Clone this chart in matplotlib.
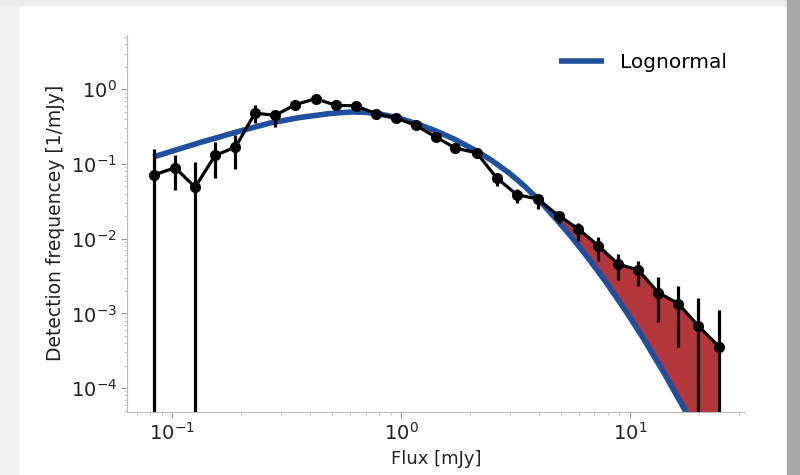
import numpy as np
import matplotlib
matplotlib.use("Agg")
import matplotlib.pyplot as plt
from matplotlib.patches import Rectangle

# binned detections (flux in mJy, frequency in 1/mJy)
flux = [0.0834, 0.103, 0.126, 0.154, 0.189, 0.230, 0.282, 0.344, 0.424, 0.519,
        0.636, 0.778, 0.95, 1.16, 1.42, 1.73, 2.14, 2.62, 3.2, 3.95,
        4.88, 5.96, 7.28, 8.89, 10.9, 13.3, 16.3, 19.9, 24.5]
freq = [0.0716, 0.089, 0.049, 0.13, 0.168, 0.48, 0.448, 0.62, 0.75, 0.61,
        0.60, 0.47, 0.417, 0.329, 0.229, 0.163, 0.141, 0.065, 0.039, 0.034,
        0.0204, 0.0135, 0.00805, 0.00457, 0.0038, 0.0019, 0.00135, 0.00068, 0.00036]
freq_hi = [0.157, 0.130, 0.105, 0.194, 0.241, 0.61, 0.49, 0.66, 0.79, 0.65,
           0.63, 0.50, 0.44, 0.35, 0.245, 0.175, 0.152, 0.0769, 0.0469, 0.0402,
           0.0238, 0.0164, 0.01064, 0.0063, 0.00507, 0.00309, 0.00234, 0.00162, 0.00111]
freq_lo = [1e-6, 0.0455, 1e-6, 0.064, 0.087, 0.35, 0.31, 0.58, 0.71, 0.57,
           0.57, 0.44, 0.395, 0.31, 0.214, 0.152, 0.131, 0.0514, 0.0304, 0.0253,
           0.0164, 0.0094, 0.00507, 0.00282, 0.00234, 0.00077, 0.000355, 1e-6, 1e-6]

# lognormal model
model_flux = [0.0826, 0.1325, 0.198, 0.268, 0.362, 0.490, 0.599, 0.696, 0.810, 0.990,
              1.211, 1.436, 1.721, 2.104, 2.497, 2.99, 3.479, 4.05, 4.88, 5.64,
              6.69, 7.94, 9.70, 11.40, 14.22, 17.39, 24.47]
model_freq = [0.1241, 0.1940, 0.2765, 0.3539, 0.4194, 0.4743, 0.4967, 0.4921, 0.4670, 0.4065,
              0.3339, 0.2732, 0.2128, 0.1535, 0.1110, 0.0744, 0.0500, 0.03177, 0.01683, 0.0100,
              0.005138, 0.002521, 0.001025, 0.000474, 0.0001530, 5.108e-5, 6.76e-6]

EXCESS_FROM = 4.88  # excess shaded from this bin on

fig = plt.figure(figsize=(8, 4.75), dpi=100)
fig.patch.set_facecolor("white")
# screenshot-like card border
fig.patches.append(Rectangle((0, 0), 18 / 800, 1, transform=fig.transFigure, color="#f1f1f1", zorder=-5))
fig.patches.append(Rectangle((0, 1 - 5 / 475), 1, 5 / 475, transform=fig.transFigure, color="#ececec", zorder=-5))
fig.patches.append(Rectangle((787 / 800, 0), 13 / 800, 1, transform=fig.transFigure, color="#a9a9a9", zorder=-5))

ax = fig.add_axes([0.159, 0.1333, 0.772, 0.793])

x = np.array(flux)
y = np.array(freq)
mx = np.array(model_flux)
my = np.array(model_freq)

sel = x >= EXCESS_FROM
msel = mx >= EXCESS_FROM
poly_x = np.concatenate([x[sel], mx[msel][::-1]])
poly_y = np.concatenate([y[sel], my[msel][::-1]])
ax.fill(poly_x, poly_y, color="#b3363b", lw=0, zorder=1)

ax.plot(mx, my, color="#1f4f9e", lw=4, label="Lognormal", zorder=2,
        solid_capstyle="butt", solid_joinstyle="round")

yerr = np.vstack([y - np.array(freq_lo), np.array(freq_hi) - y])
ax.errorbar(x, y, yerr=yerr, fmt="o-", color="black", ms=7, lw=2.3, elinewidth=2.3,
            capsize=0, zorder=3)

ax.set_xscale("log")
ax.set_yscale("log")
ax.set_xlim(0.0636, 31.8)
ax.set_ylim(4.83e-5, 5.33)

ax.set_xlabel("Flux [mJy]", fontsize=13, color="#222222", labelpad=4)
ax.set_ylabel("Detection frequencey [1/mJy]", fontsize=13.5, color="#222222", labelpad=4)
ax.tick_params(axis="both", which="major", labelsize=14, colors="#999999", labelcolor="#222222", length=4)
ax.tick_params(axis="both", which="minor", colors="#bbbbbb", length=2)

for side in ("top", "right"):
    ax.spines[side].set_visible(False)
for side in ("left", "bottom"):
    ax.spines[side].set_color("#bbbbbb")

ax.legend(loc="upper right", frameon=False, fontsize=14.5, handlelength=2.2,
          bbox_to_anchor=(1.0, 1.0))

fig.savefig("out.png", dpi=100, facecolor=fig.get_facecolor())
